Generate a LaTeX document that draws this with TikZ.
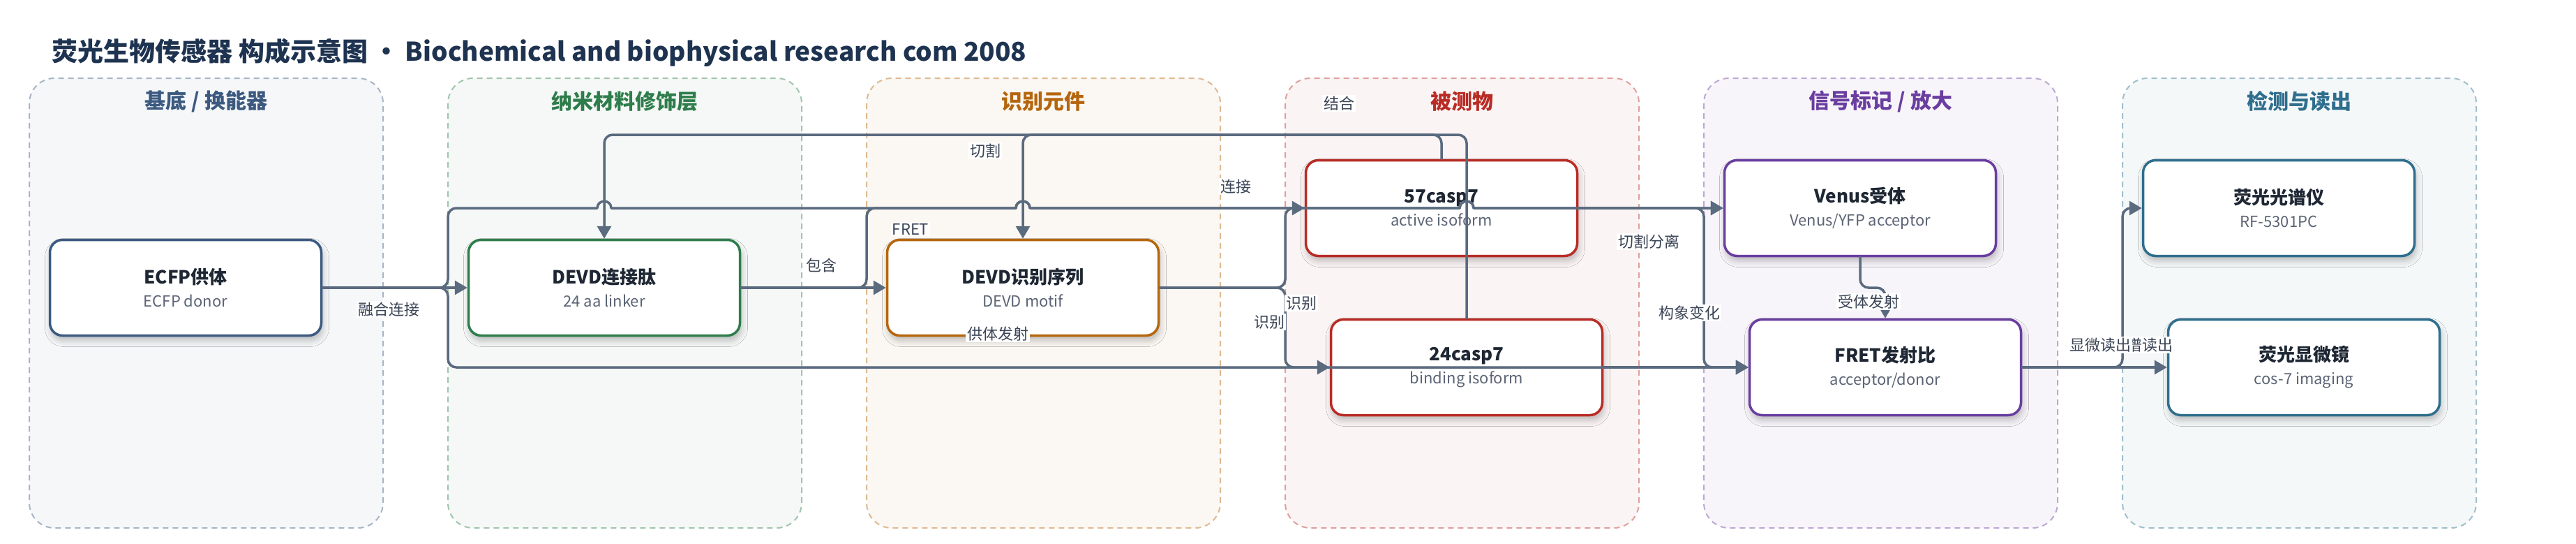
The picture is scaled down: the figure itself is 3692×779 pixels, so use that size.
\documentclass[tikz,border=0pt]{standalone}
\usepackage{fontspec}
\setmainfont{Noto Sans CJK SC}
\usetikzlibrary{arrows.meta,shadows.blur}

\definecolor{ink}{HTML}{1E3350}
\definecolor{flowc}{HTML}{5A6A7F}
\definecolor{tagc}{HTML}{3A4455}
\definecolor{headc}{HTML}{1E2733}
\definecolor{subc}{HTML}{5B6475}
\definecolor{c0}{HTML}{3C5A80}
\definecolor{c1}{HTML}{2E7D4B}
\definecolor{c2}{HTML}{B5660C}
\definecolor{c3}{HTML}{B92C26}
\definecolor{c4}{HTML}{6A3EA0}
\definecolor{c5}{HTML}{2F6E8D}

\newcommand{\parthead}[1]{{\fontsize{26}{33}\selectfont\bfseries\color{headc}#1}}

\tikzset{
  lane/.style={draw=#1!45, fill=#1!5, line width=2pt, dash pattern=on 8pt off 6pt, rounded corners=36pt},
  lanehead/.style={text=#1, font=\fontsize{30}{34}\selectfont\bfseries},
  part/.style={draw=#1, line width=3.5pt, fill=white, rounded corners=18pt,
    minimum width=389pt, minimum height=137pt, align=center, text=subc,
    font=\fontsize{22}{33}\selectfont,
    blur shadow={shadow xshift=2pt, shadow yshift=-7pt, shadow blur radius=9pt, shadow opacity=25}},
  flow/.style={draw=flowc, line width=3.5pt, line cap=round, rounded corners=12pt, -{Triangle[length=18pt,width=20pt]}},
  tag/.style={fill=white, inner sep=2pt, text=tagc, font=\fontsize{22}{24}\selectfont}
}

\begin{document}
\begin{tikzpicture}[x=1pt,y=-1pt]
\useasboundingbox (0,0) rectangle (3692,779);

\node[anchor=west, text=ink, font=\fontsize{37}{41}\selectfont\bfseries] (title) at (71,75)
  {荧光生物传感器 构成示意图 · Biochemical and biophysical research com 2008};

\foreach \lname/\lcol [count=\i from 0] in {{基底 / 换能器}/c0,纳米材料修饰层/c1,识别元件/c2,被测物/c3,{信号标记 / 放大}/c4,检测与读出/c5}{
  \draw[lane=\lcol] ({42+600*\i},112) rectangle ++(507,644);
  \node[lanehead=\lcol] (head\i) at ({295.5+600*\i},145) {\lname};
}

\node[part=c0] (ecfp) at (266,412) {\parthead{ECFP供体}\\ECFP donor};
\node[part=c1] (linker) at (866,412) {\parthead{DEVD连接肽}\\24 aa linker};
\node[part=c2] (motif) at (1466,412) {\parthead{DEVD识别序列}\\DEVD motif};
\node[part=c3] (casp57) at (2066,298) {\parthead{57casp7}\\active isoform};
\node[part=c3] (casp24) at (2102,526) {\parthead{24casp7}\\binding isoform};
\node[part=c4] (venus) at (2666,298) {\parthead{Venus受体}\\Venus/YFP acceptor};
\node[part=c4] (ratio) at (2702,526) {\parthead{FRET发射比}\\acceptor/donor};
\node[part=c5] (spectro) at (3266,298) {\parthead{荧光光谱仪}\\RF-5301PC};
\node[part=c5] (micro) at (3302,526) {\parthead{荧光显微镜}\\cos-7 imaging};

\draw[flow] (ecfp.east) -- (linker.west);
\draw[flow] (ecfp.east) -- (642,412) -- (642,298) -- (856,298)
  (856,298) .. controls (856,285) and (876,285) .. (876,298)
  (876,298) -- (1456,298)
  (1456,298) .. controls (1456,285) and (1476,285) .. (1476,298)
  (1476,298) -- (2092,298)
  (2092,298) .. controls (2092,285) and (2112,285) .. (2112,298)
  (2112,298) -- (venus.west);
\draw[flow] (ecfp.east) -- (642,412) -- (642,526) -- (ratio.west);
\draw[flow] (linker.east) -- (motif.west);
\draw[flow] (linker.east) -- (1242,412) -- (1242,298) -- (1456,298)
  (1456,298) .. controls (1456,285) and (1476,285) .. (1476,298)
  (1476,298) -- (2092,298)
  (2092,298) .. controls (2092,285) and (2112,285) .. (2112,298)
  (2112,298) -- (venus.west);
\draw[flow] (motif.east) -- (1842,412) -- (1842,298) -- (casp57.west);
\draw[flow] (motif.east) -- (1842,412) -- (1842,526) -- (casp24.west);
\draw[flow] (casp57.north) -- (2066,193) -- (1466,193) -- (motif.north);
\draw[flow] (casp24.north) -- (2102,193) -- (866,193) -- (linker.north);
\draw[flow] (casp57.east) -- (2442,298) -- (2442,526) -- (ratio.west);
\draw[flow] (casp24.east) -- (ratio.west);
\draw[flow] (venus.south) -- (2666,412) -- (2702,412) -- (ratio.north);
\draw[flow] (ratio.east) -- (3042,526) -- (3042,298) -- (spectro.west);
\draw[flow] (ratio.east) -- (micro.west);

\node[tag] (fuse) at (557,443) {融合连接};
\node[tag] (hold) at (1177,380) {包含};
\node[tag] (fret) at (1305,328) {FRET};
\node[tag] (emitd) at (1430,478) {供体发射};
\node[tag] (cut) at (1412,216) {切割};
\node[tag] (link) at (1771,267) {连接};
\node[tag] (recA) at (1819,461) {识别};
\node[tag] (recB) at (1865,434) {识别};
\node[tag] (bind) at (1919,148) {结合};
\node[tag] (split) at (2363,346) {切割分离};
\node[tag] (conf) at (2421,448) {构象变化};
\node[tag] (emita) at (2678,432) {受体发射};
\node[tag] (spec) at (3070,494) {光谱读出};
\node[tag] (micr) at (3010,494) {显微读出};
\end{tikzpicture}
\end{document}
